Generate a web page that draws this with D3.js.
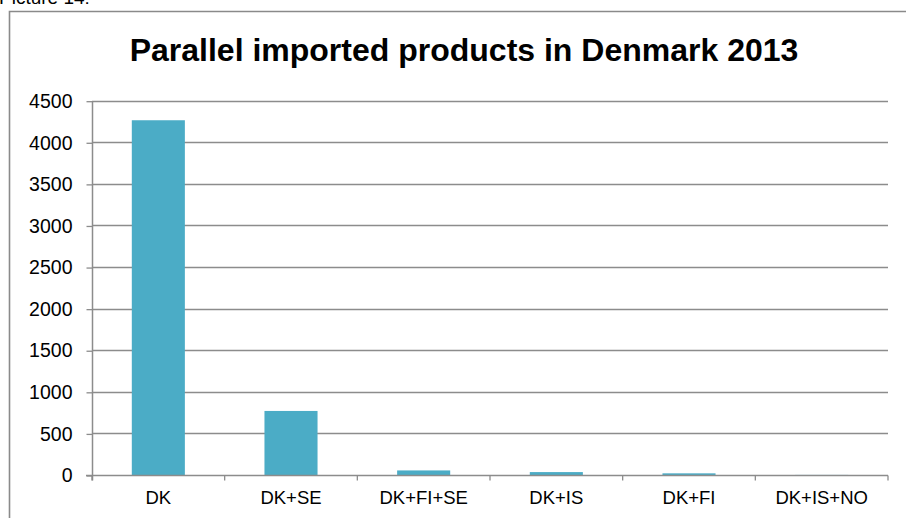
<!DOCTYPE html>
<html>
<head>
<meta charset="utf-8">
<script src="https://cdn.jsdelivr.net/npm/d3@7"></script>
<style>
  html, body { margin: 0; padding: 0; background: #fff; }
  svg { display: block; font-family: "Liberation Sans", Arial, sans-serif; }
</style>
</head>
<body>
<svg id="chart" width="906" height="518"></svg>
<script>
const categories = ["DK", "DK+SE", "DK+FI+SE", "DK+IS", "DK+FI", "DK+IS+NO"];
const values = [4265, 770, 55, 35, 20, 1];
const yTicks = [0, 500, 1000, 1500, 2000, 2500, 3000, 3500, 4000, 4500];
const titleText = "Parallel imported products in Denmark 2013";
const captionText = "Picture 14:";

const svg = d3.select("#chart");
const W = 906, H = 518;
const margin = { left: 92, right: 18, top: 100.7, bottom: 43 };
const x0 = margin.left, x1 = W - margin.right;
const yTop = margin.top, yBot = H - margin.bottom;

// caption (cut off at top, as in the reference)
svg.append("text").attr("x", -1).attr("y", 4)
  .attr("font-size", 19).attr("fill", "#000").text(captionText);

// frame
svg.append("path")
  .attr("d", `M9.5,${H + 5} L9.5,11.5 L${W + 5},11.5`)
  .attr("fill", "none").attr("stroke", "#8a8a8a").attr("stroke-width", 1.6);

// title
svg.append("text").attr("x", 464).attr("y", 61)
  .attr("text-anchor", "middle").attr("font-weight", "bold")
  .attr("font-size", 32).attr("fill", "#000").text(titleText);

const x = d3.scaleBand().domain(categories).range([x0, x1]).paddingInner(0.6).paddingOuter(0.3);
const y = d3.scaleLinear().domain([0, 4500]).range([yBot, yTop]);

// gridlines
svg.append("g").selectAll("line").data(yTicks.filter(d => d > 0)).join("line")
  .attr("x1", x0).attr("x2", x1)
  .attr("y1", d => Math.round(y(d)) + 0.5).attr("y2", d => Math.round(y(d)) + 0.5)
  .attr("stroke", "#8c8c8c").attr("stroke-width", 1.3);

// bars
svg.append("g").selectAll("rect").data(categories).join("rect")
  .attr("x", d => x(d)).attr("width", x.bandwidth())
  .attr("y", (d, i) => y(values[i]))
  .attr("height", (d, i) => yBot - y(values[i]))
  .attr("fill", "#4bacc6");

// y axis
const yAxis = d3.axisLeft(y).tickValues(yTicks).tickSize(6).tickPadding(14).tickFormat(d3.format("d"));
const gy = svg.append("g").attr("transform", `translate(${x0 + 0.5},0.5)`).call(yAxis);
gy.select(".domain").remove();
gy.append("line").attr("x1", 0).attr("x2", 0).attr("y1", yTop).attr("y2", yBot + 5)
  .attr("stroke", "#8c8c8c").attr("stroke-width", 1.5);
gy.selectAll(".tick line").attr("stroke", "#8c8c8c").attr("stroke-width", 1.3);
gy.selectAll(".tick text").attr("font-size", 19.5).attr("fill", "#000")
  .attr("font-family", "Liberation Sans, Arial, sans-serif");

// x axis
const gx = svg.append("g").attr("transform", `translate(0,${Math.round(yBot) + 0.5})`);
gx.append("line").attr("x1", x0 - 6).attr("x2", x1).attr("stroke", "#8c8c8c").attr("stroke-width", 1.5);
const bounds = d3.range(categories.length + 1).map(i => x0 + i * (x1 - x0) / categories.length);
gx.selectAll("line.tk").data(bounds).join("line").attr("class", "tk")
  .attr("x1", d => d).attr("x2", d => d).attr("y1", 0).attr("y2", 5)
  .attr("stroke", "#8c8c8c").attr("stroke-width", 1.3);
gx.selectAll("text").data(categories).join("text")
  .attr("x", d => x(d) + x.bandwidth() / 2).attr("y", 28)
  .attr("text-anchor", "middle").attr("font-size", 18.5).attr("fill", "#000")
  .text(d => d);
</script>
</body>
</html>
